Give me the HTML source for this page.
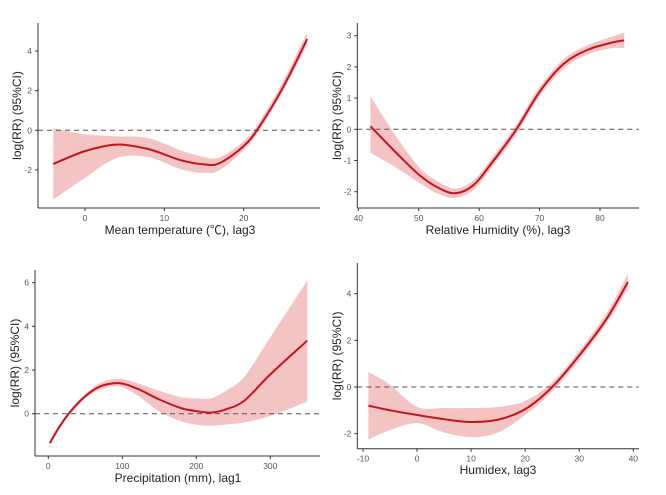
<!DOCTYPE html>
<html><head><meta charset="utf-8"><style>
html,body{margin:0;padding:0;background:#fff}
svg{display:block;font-family:"Liberation Sans","Noto Sans CJK SC",sans-serif}
</style></head><body>
<svg id="c" width="666" height="495" viewBox="0 0 666 495"></svg>
<script>
// Panel 1: Mean temperature
const tempX=[-4,0,4,8,12,15,17,20,22,25,28];
const tempFit=[-1.7,-1.05,-0.72,-0.95,-1.5,-1.72,-1.65,-0.8,0.2,2.2,4.6];
const tempLo=[-3.5,-2.4,-1.4,-1.35,-1.95,-2.15,-2.0,-1.0,0,2.0,4.3];
const tempHi=[0.1,-0.2,-0.3,-0.4,-1.0,-1.35,-1.35,-0.55,0.45,2.5,4.95];
const tempXTicks=[0,10,20];
const tempYTicks=[-2,0,2,4];
// Panel 2: Relative humidity
const rhX=[42,46,50,53,56,59,62,66,70,74,78,82,84];
const rhFit=[0.1,-0.7,-1.45,-1.85,-2.05,-1.8,-1.1,-0.05,1.2,2.1,2.55,2.78,2.85];
const rhLo=[-0.75,-1.2,-1.7,-2.05,-2.2,-1.95,-1.25,-0.2,1.05,1.95,2.4,2.6,2.6];
const rhHi=[1.05,-0.15,-1.2,-1.65,-1.9,-1.65,-0.95,0.1,1.35,2.25,2.7,2.97,3.1];
const rhXTicks=[40,50,60,70,80];
const rhYTicks=[-2,-1,0,1,2,3];
// Panel 3: Precipitation
const prX=[2,15,30,50,70,95,120,150,180,200,220,240,265,300,350];
const prFit=[-1.35,-0.6,0.1,0.8,1.25,1.4,1.15,0.65,0.25,0.12,0.05,0.2,0.6,1.8,3.35];
const prLo=[-1.45,-0.7,0,0.7,1.1,1.25,0.85,0.1,-0.35,-0.5,-0.55,-0.5,-0.4,-0.1,0.55];
const prHi=[-1.25,-0.5,0.2,0.9,1.4,1.6,1.4,1.05,0.75,0.7,0.7,1.05,1.7,3.5,6.1];
const prXTicks=[0,100,200,300];
const prYTicks=[0,2,4,6];
// Panel 4: Humidex
const hxX=[-9,-5,0,5,10,15,20,25,30,35,39];
const hxFit=[-0.8,-1.0,-1.2,-1.38,-1.5,-1.4,-0.95,0,1.35,2.9,4.5];
const hxLo=[-2.25,-1.85,-1.55,-1.95,-2.15,-1.95,-1.2,-0.2,1.15,2.7,4.2];
const hxHi=[0.65,0.1,-0.85,-0.9,-0.9,-0.85,-0.6,0.2,1.55,3.15,4.85];
const hxXTicks=[-10,0,10,20,30,40];
const hxYTicks=[-2,0,2,4];

const NS="http://www.w3.org/2000/svg";
const svg=document.getElementById('c');
function mk(t,a,p){const e=document.createElementNS(NS,t);for(const k in a)e.setAttribute(k,a[k]);(p||svg).appendChild(e);return e;}
function lin(d0,d1,r0,r1){return v=>r0+(v-d0)*(r1-r0)/(d1-d0);}
function smooth(pts){
  let d="M"+pts[0][0].toFixed(2)+","+pts[0][1].toFixed(2);
  for(let i=0;i<pts.length-1;i++){
    const p0=pts[i-1]||pts[i],p1=pts[i],p2=pts[i+1],p3=pts[i+2]||p2;
    const c1=[p1[0]+(p2[0]-p0[0])/6,p1[1]+(p2[1]-p0[1])/6];
    const c2=[p2[0]-(p3[0]-p1[0])/6,p2[1]-(p3[1]-p1[1])/6];
    d+="C"+c1.join(",")+" "+c2.join(",")+" "+p2.join(",");
  }
  return d;
}
function panel(o){
  const g=mk('g',{});
  
  
  const sx=lin(o.xd[0],o.xd[1],o.xr[0],o.xr[1]);
  const sy=lin(o.yd[0],o.yd[1],o.yr[0],o.yr[1]);
  const up=o.x.map((v,i)=>[sx(v),sy(o.hi[i])]);
  const lo=o.x.map((v,i)=>[sx(v),sy(o.lo[i])]).reverse();
  const lp=smooth(lo).replace(/^M/,"L");
  const band=mk('path',{d:smooth(up)+lp+"Z",fill:"#f4c4c4",stroke:"none"},g);
  
  
  const z=mk('line',{x1:o.L,x2:o.R,y1:sy(0),y2:sy(0),stroke:"#555","stroke-dasharray":"5,4","stroke-width":1},g);
  
  
  const ln=mk('path',{d:smooth(o.x.map((v,i)=>[sx(v),sy(o.fit[i])])),fill:"none",stroke:"#c4141c","stroke-width":2},g);
  
  
  const ya=mk('line',{x1:o.L,x2:o.L,y1:o.T,y2:o.B,stroke:"#333","stroke-width":1},g);
  
  
  const xa=mk('line',{x1:o.L,x2:o.R,y1:o.B,y2:o.B,stroke:"#333","stroke-width":1},g);
  
  
  o.xt.forEach(v=>{
    mk('line',{x1:sx(v),x2:sx(v),y1:o.B,y2:o.B+3,stroke:"#333"},g);
    const t=mk('text',{x:sx(v),y:o.B+13,"font-size":8.5,fill:"#555","text-anchor":"middle"},g);
    t.textContent=v;
    
    
  });
  o.yt.forEach(v=>{
    mk('line',{x1:o.L-3,x2:o.L,y1:sy(v),y2:sy(v),stroke:"#333"},g);
    const t=mk('text',{x:o.L-6,y:sy(v)+3,"font-size":8.5,fill:"#555","text-anchor":"end"},g);
    t.textContent=v;
    
    
  });
  const xt=mk('text',{x:o.xtx,y:o.xty,"font-size":12,fill:"#222","text-anchor":"middle"},g);
  xt.textContent=o.xlab;
  
  
  const cy=(o.T+o.B)/2;
  const yt=mk('text',{x:o.ytx,y:cy,"font-size":12,fill:"#222","text-anchor":"middle",transform:`rotate(-90 ${o.ytx} ${cy})`},g);
  yt.textContent="log(RR) (95%CI)";
  
  
}
panel({name:'panel-mean-temperature',x:tempX,fit:tempFit,lo:tempLo,hi:tempHi,xt:tempXTicks,yt:tempYTicks,
  xd:[0,20],xr:[85,243.7],yd:[0,4],yr:[130.3,51],L:38,R:320,T:23,B:208,
  xlab:"Mean temperature (℃), lag3",xtx:180,xty:234,ytx:21});
panel({name:'panel-relative-humidity',x:rhX,fit:rhFit,lo:rhLo,hi:rhHi,xt:rhXTicks,yt:rhYTicks,
  xd:[40,80],xr:[358.3,600],yd:[0,3],yr:[129.3,35.7],L:357.3,R:639,T:23,B:208,
  xlab:"Relative Humidity (%), lag3",xtx:498,xty:234,ytx:341});
panel({name:'panel-precipitation',x:prX,fit:prFit,lo:prLo,hi:prHi,xt:prXTicks,yt:prYTicks,
  xd:[0,300],xr:[48.3,270.3],yd:[0,6],yr:[413.7,282.7],L:35,R:320,T:270,B:456,
  xlab:"Precipitation (mm), lag1",xtx:178,xty:482,ytx:19});
panel({name:'panel-humidex',x:hxX,fit:hxFit,lo:hxLo,hi:hxHi,xt:hxXTicks,yt:hxYTicks,
  xd:[-10,40],xr:[363,633.3],yd:[0,4],yr:[387,293.7],L:357.3,R:639,T:263,B:448.7,
  xlab:"Humidex, lag3",xtx:498,xty:474,ytx:341});
</script>
</body></html>
